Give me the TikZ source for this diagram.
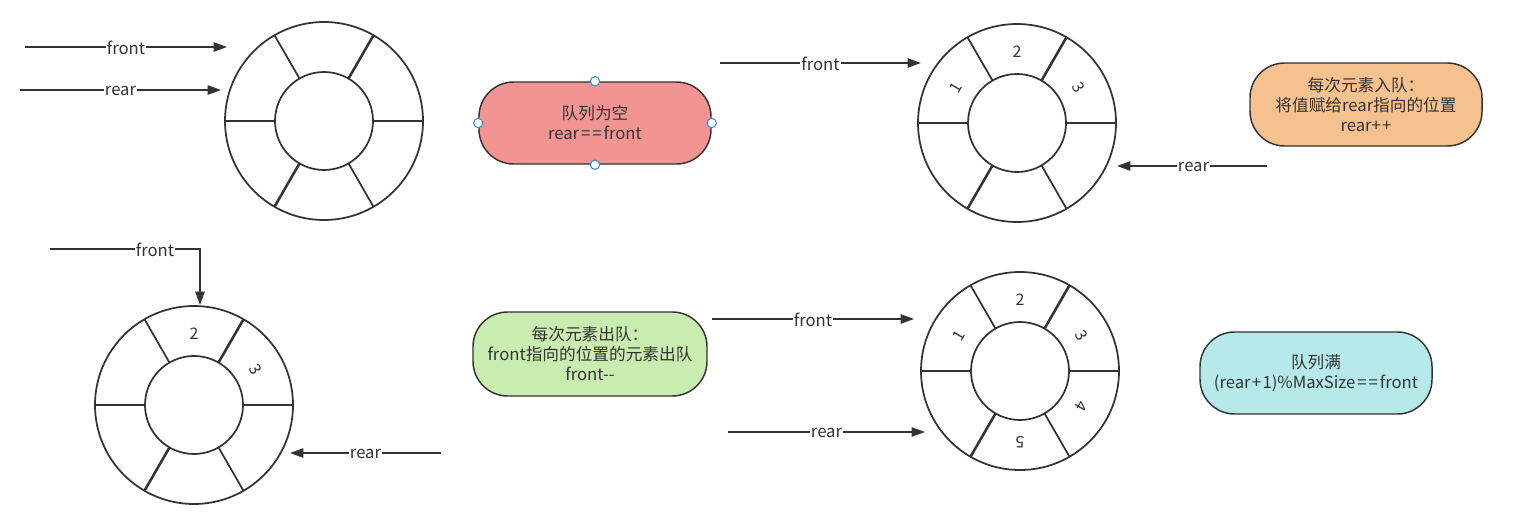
\documentclass[tikz,border=0pt]{standalone}
\usepackage{fontspec}
\setmainfont{Noto Sans CJK SC}
\usepackage{tikz}
\usetikzlibrary{arrows.meta,positioning,calc}
\usepackage{xcolor}
\definecolor{LineGray}{HTML}{333333}
\definecolor{SoftRed}{HTML}{F19492}
\definecolor{SoftOrange}{HTML}{F5C18E}
\definecolor{SoftGreen}{HTML}{C9ECB0}
\definecolor{SoftCyan}{HTML}{B5E9EA}
\definecolor{HandleBlue}{HTML}{3C8CE7}
\newcommand\eqgap{\kern1.5pt}

\begin{document}
\begin{tikzpicture}[x=0.75pt,y=0.75pt, every node/.style={font=\fontsize{12.5}{15}\selectfont,text=LineGray},
  link/.style={draw=LineGray,line width=1.1pt,-{Triangle[length=10pt,width=7pt]}},
  tag/.style={fill=white,inner sep=1pt,yshift=-1pt},
  note/.style={draw=LineGray,line width=1.1pt,rounded corners=26pt,minimum width=174pt,minimum height=61.5pt,align=center},
  handle/.style={circle,draw=HandleBlue,fill=white,line width=0.8pt,inner sep=0pt,minimum size=7pt},
  ringline/.style={draw=LineGray,line width=1.3pt},
  slotnum/.style={font=\fontsize{12}{12}\selectfont},
  queuering/.pic={
    \coordinate (-c) at (0,0);
    \draw[ringline] (0,0) circle[radius=99];
    \draw[ringline] (0,0) circle[radius=49];
    \foreach \a/\w in {0/1.3,60/1.9,120/1.3,180/1.3,240/1.9,300/1.3}
      \draw[ringline,line width=\w pt] (\a:49) -- (\a:99);
  }]
\useasboundingbox[fill=white] (0,0) rectangle (1524,-517);

% the four queues
\pic (q1) at (324,-121) {queuering};
\pic (q2) at (1017,-123) {queuering};
\pic (q3) at (194,-405) {queuering};
\pic (q4) at (1020,-371) {queuering};
\foreach \a/\t in {150/1,90/2,30/3}
  \node[slotnum,rotate=\a-90] (q2-n\t) at ($(q2-c)+(\a:71)$) {\t};
\foreach \a/\t in {90/2,30/3}
  \node[slotnum,rotate=\a-90] (q3-n\t) at ($(q3-c)+(\a:71)$) {\t};
\foreach \a/\t in {150/1,90/2,30/3,-30/4,-90/5}
  \node[slotnum,rotate=\a-90] (q4-n\t) at ($(q4-c)+(\a:71)$) {\t};

% pointers
\coordinate (f1s) at (25,-47);   \coordinate (f1e) at (227,-47);
\coordinate (r1s) at (20,-90);   \coordinate (r1e) at (221,-90);
\coordinate (f2s) at (720,-63);  \coordinate (f2e) at (921,-63);
\coordinate (r2s) at (1267,-166); \coordinate (r2e) at (1117,-166);
\coordinate (f3s) at (50,-249);  \coordinate (f3e) at (200,-305);
\coordinate (r3s) at (441,-453); \coordinate (r3e) at (290,-453);
\coordinate (f4s) at (712,-319); \coordinate (f4e) at (914,-319);
\coordinate (r4s) at (728,-432); \coordinate (r4e) at (925,-432);
\draw[link] (f1s) -- node[tag] (f1t) {front} (f1e);
\draw[link] (r1s) -- node[tag] (r1t) {rear} (r1e);
\draw[link] (f2s) -- node[tag] (f2t) {front} (f2e);
\draw[link] (r2s) -- node[tag,pos=0.49] (r2t) {rear} (r2e);
\draw[link] (f3s) -| node[tag,pos=0.35] (f3t) {front} (f3e);
\draw[link] (r3s) -- node[tag] (r3t) {rear} (r3e);
\draw[link] (f4s) -- node[tag] (f4t) {front} (f4e);
\draw[link] (r4s) -- node[tag] (r4t) {rear} (r4e);

% notes
\node[note,fill=SoftRed] (empty) at (595,-123) {队列为空\\rear\eqgap=\eqgap=\eqgap front};
\foreach \s in {north,south,east,west}
  \node[handle] (empty-\s) at (empty.\s) {};
\node[note,fill=SoftOrange,minimum height=62.25pt] (enq) at (1366,-104.5) {每次元素入队：\\将值赋给rear指向的位置\\rear+\kern1pt+};
\node[note,fill=SoftGreen,minimum width=175.5pt,minimum height=63pt] (deq) at (590,-354) {每次元素出队：\\front指向的位置的元素出队\\front-{}-};
\node[note,fill=SoftCyan] (full) at (1316,-373) {队列满\\(rear\kern1pt+\kern1pt1)\%MaxSize\eqgap=\eqgap=\eqgap front};
\end{tikzpicture}
\end{document}
